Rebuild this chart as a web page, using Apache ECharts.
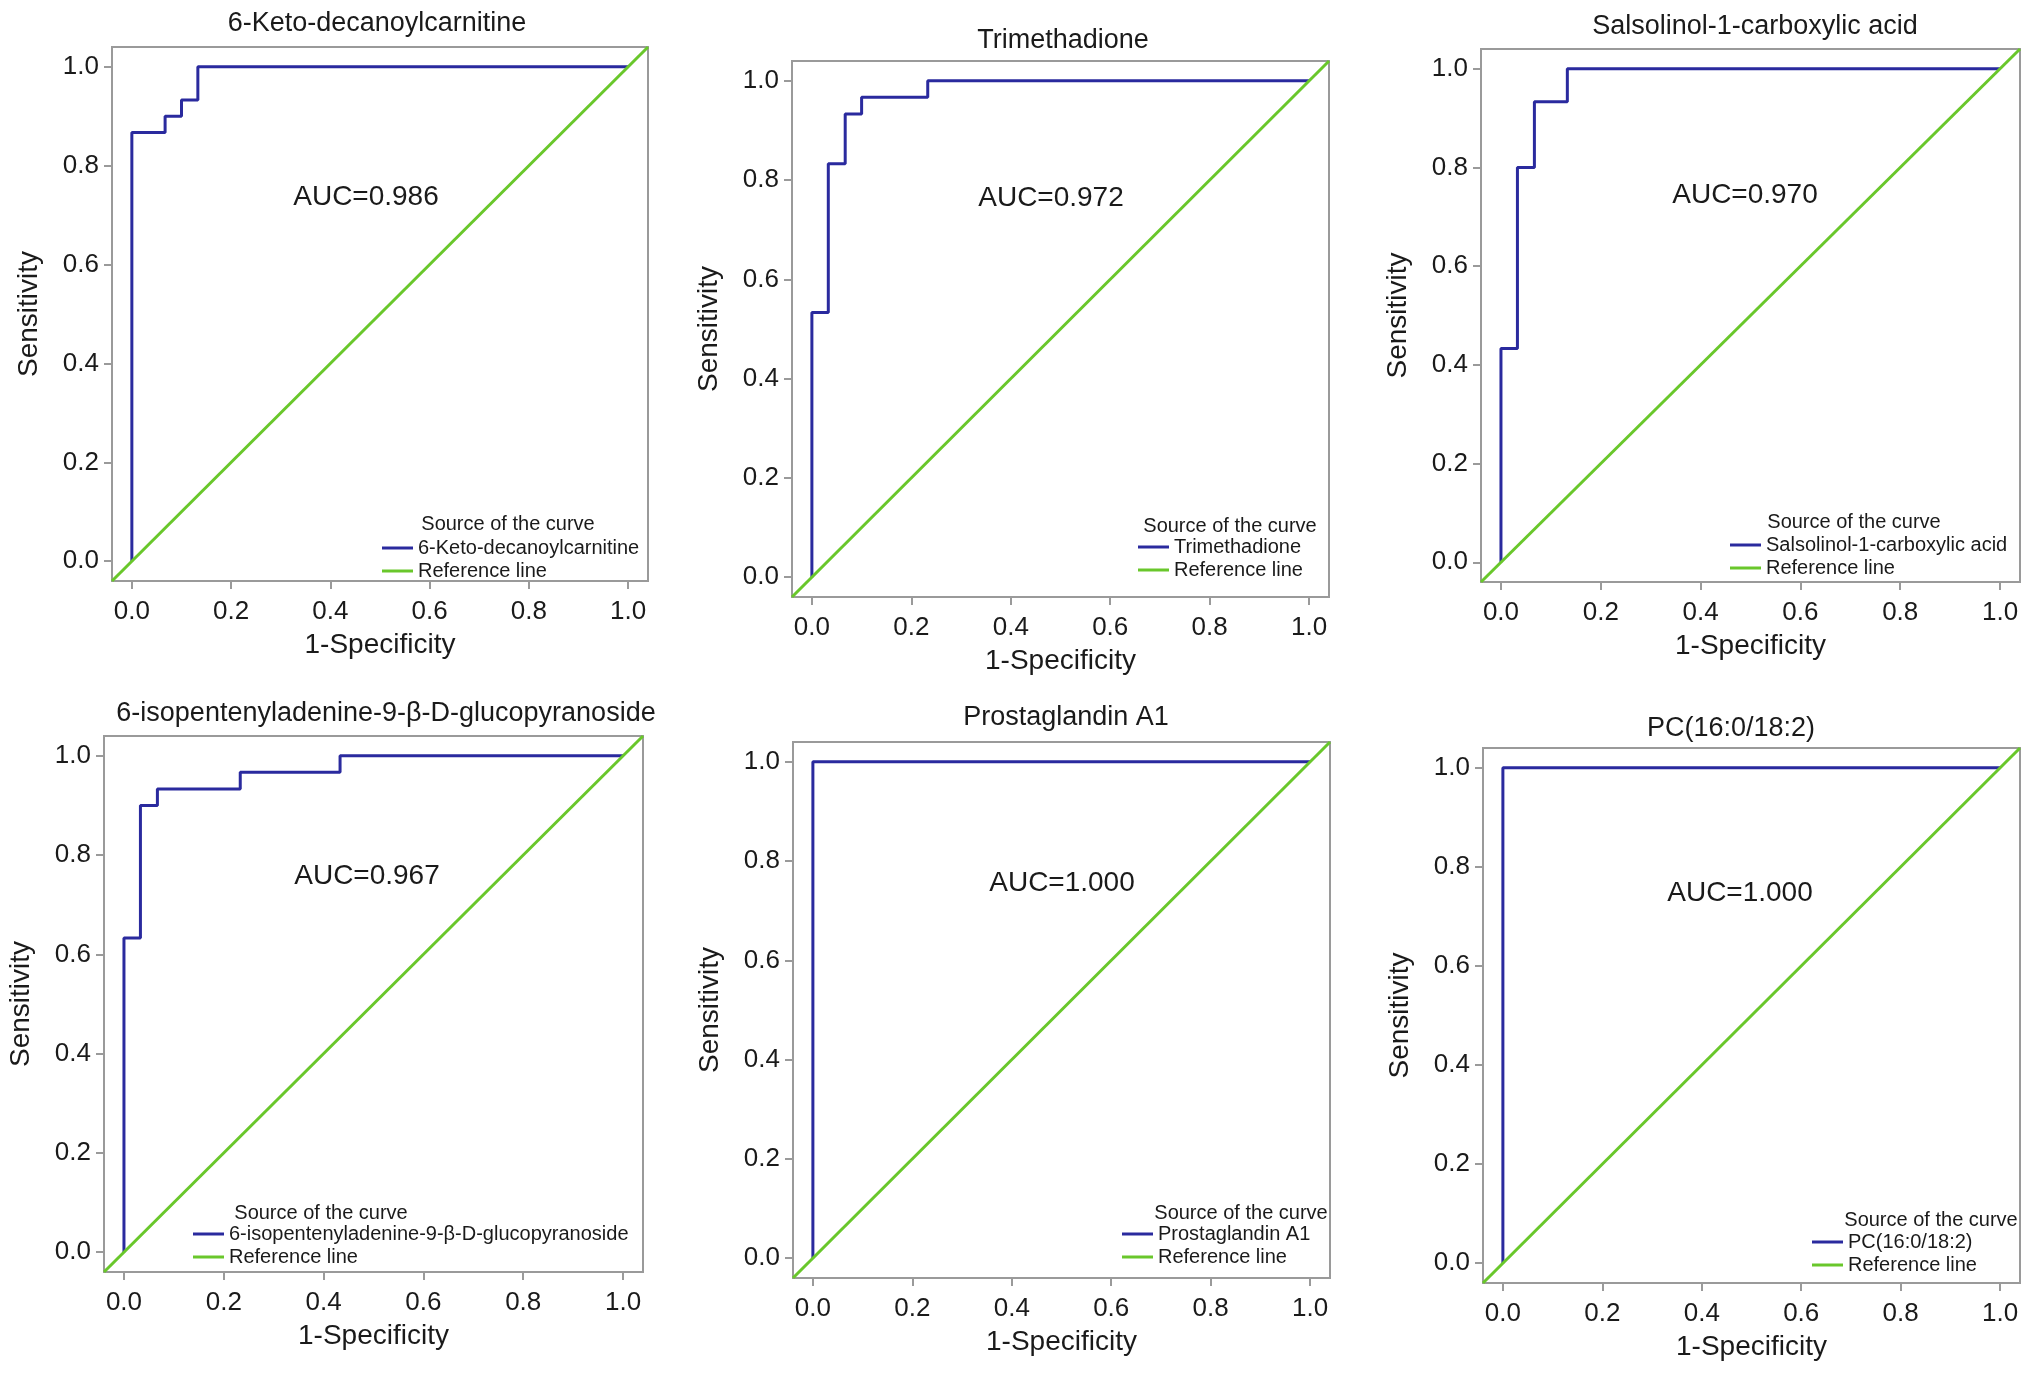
<!DOCTYPE html>
<html lang="en" style="height: 100%">
<head>
    <meta charset="utf-8">
</head>
<body style="height: 100%; margin: 0; overflow: hidden; background: #fff">
<div id="container" style="height: 100%; width: 100%"></div>

<script type="text/javascript" src="https://cdn.jsdelivr.net/npm/echarts@6/dist/echarts.min.js"></script>

<script type="text/javascript">
    // ROC curves, six metabolites (SPSS style)
    var names = [
      '6-Keto-decanoylcarnitine',
      'Trimethadione',
      'Salsolinol-1-carboxylic acid',
      '6-isopentenyladenine-9-\u03b2-D-glucopyranoside',
      'Prostaglandin A1',
      'PC(16:0/18:2)'
    ];
    var aucText = ['AUC=0.986', 'AUC=0.972', 'AUC=0.970', 'AUC=0.967', 'AUC=1.000', 'AUC=1.000'];

    var fpr1 = [0, 0, 0.067, 0.067, 0.1, 0.1, 0.133, 0.133, 1];
    var tpr1 = [0, 0.867, 0.867, 0.9, 0.9, 0.933, 0.933, 1, 1];
    var fpr2 = [0, 0, 0.033, 0.033, 0.067, 0.067, 0.1, 0.1, 0.233, 0.233, 1];
    var tpr2 = [0, 0.533, 0.533, 0.833, 0.833, 0.933, 0.933, 0.967, 0.967, 1, 1];
    var fpr3 = [0, 0, 0.033, 0.033, 0.067, 0.067, 0.133, 0.133, 1];
    var tpr3 = [0, 0.433, 0.433, 0.8, 0.8, 0.933, 0.933, 1, 1];
    var fpr4 = [0, 0, 0.033, 0.033, 0.067, 0.067, 0.233, 0.233, 0.433, 0.433, 1];
    var tpr4 = [0, 0.633, 0.633, 0.9, 0.9, 0.933, 0.933, 0.967, 0.967, 1, 1];
    var fpr5 = [0, 0, 1];
    var tpr5 = [0, 1, 1];
    var fpr6 = [0, 0, 1];
    var tpr6 = [0, 1, 1];

    var fprs = [fpr1, fpr2, fpr3, fpr4, fpr5, fpr6];
    var tprs = [tpr1, tpr2, tpr3, tpr4, tpr5, tpr6];

    var refLine = [-0.04, 1.04];            // diagonal, corner to corner
    var tickValues = [0, 0.2, 0.4, 0.6, 0.8, 1.0];

    // pixel layout of each panel
    var layout = [
      { grid: [112, 47, 536, 534],  title: [377, 24],   auc: [366, 197],  head: [508, 524],   leg: [382, 548] },
      { grid: [792, 61, 537, 536],  title: [1063, 41],  auc: [1051, 198], head: [1230, 526],  leg: [1138, 547] },
      { grid: [1481, 49, 539, 533], title: [1755, 27],  auc: [1745, 195], head: [1854, 522],  leg: [1730, 545] },
      { grid: [104, 736, 539, 536], title: [386, 714],  auc: [367, 876],  head: [321, 1213],  leg: [193, 1234] },
      { grid: [793, 742, 537, 536], title: [1066, 718], auc: [1062, 883], head: [1241, 1213], leg: [1122, 1234] },
      { grid: [1483, 748, 537, 535], title: [1731, 729], auc: [1740, 893], head: [1931, 1220], leg: [1812, 1242] }
    ];

    var blue = '#2a2a9e';
    var green = '#69c72b';
    var gray = '#9a9a9a';
    var ink = '#1a1a1a';
    var font = '"Liberation Sans", Arial, Helvetica, sans-serif';

    var dom = document.getElementById('container');
    var myChart = echarts.init(dom, null, { renderer: 'canvas' });

    var grids = [], xAxes = [], yAxes = [], series = [], legends = [], texts = [];

    layout.forEach(function (p, i) {
      grids.push({
        left: p.grid[0], top: p.grid[1], width: p.grid[2], height: p.grid[3],
        show: true, borderColor: gray, borderWidth: 2, backgroundColor: '#fff'
      });
      var axisCommon = {
        gridIndex: i, type: 'value', min: refLine[0], max: refLine[1],
        nameLocation: 'middle',
        nameMoveOverlap: false,
        nameTextStyle: { fontSize: 28, color: ink, fontFamily: font },
        axisLine: { show: false, onZero: false },
        splitLine: { show: false },
        axisTick: { show: true, inside: false, length: 8, customValues: tickValues,
                    lineStyle: { color: gray, width: 2 } },
        axisLabel: { fontSize: 26, color: ink, fontFamily: font, margin: 15,
                     customValues: tickValues,
                     formatter: function (v) { return v.toFixed(1); } }
      };
      xAxes.push(Object.assign({}, axisCommon, {
        name: '1-Specificity', nameGap: 50,
        axisLabel: Object.assign({}, axisCommon.axisLabel, { margin: 18 })
      }));
      yAxes.push(Object.assign({}, axisCommon, {
        name: 'Sensitivity', nameGap: 69, nameRotate: 90,
        axisLabel: Object.assign({}, axisCommon.axisLabel, { margin: 13 })
      }));

      var curve = fprs[i].map(function (x, k) { return [x, tprs[i][k]]; });
      series.push({
        name: names[i], type: 'line', xAxisIndex: i, yAxisIndex: i,
        data: curve, symbol: 'none', color: blue,
        lineStyle: { color: blue, width: 3 }
      });
      series.push({
        name: 'Reference line', type: 'line', xAxisIndex: i, yAxisIndex: i,
        data: [[refLine[0], refLine[0]], [refLine[1], refLine[1]]],
        symbol: 'none', color: green,
        lineStyle: { color: green, width: 3 }
      });

      legends.push({
        orient: 'vertical', left: p.leg[0], top: p.leg[1] - 11.5, padding: 0,
        itemGap: 0, itemWidth: 31, itemHeight: 3, icon: 'rect',
        selectedMode: false,
        textStyle: { fontSize: 20, lineHeight: 23, color: ink, fontFamily: font },
        data: [names[i], 'Reference line']
      });

      texts.push({
        type: 'text', x: p.title[0], y: p.title[1],
        style: { text: names[i], fontSize: 27, fontFamily: font, fill: ink,
                 align: 'center', verticalAlign: 'middle' }
      });
      texts.push({
        type: 'text', x: p.auc[0], y: p.auc[1],
        style: { text: aucText[i], fontSize: 28, fontFamily: font, fill: ink,
                 align: 'center', verticalAlign: 'middle' }
      });
      texts.push({
        type: 'text', x: p.head[0], y: p.head[1],
        style: { text: 'Source of the curve', fontSize: 20, fontFamily: font, fill: ink,
                 align: 'center', verticalAlign: 'middle' }
      });
    });

    var option = {
      animation: false,
      backgroundColor: '#fff',
      grid: grids,
      xAxis: xAxes,
      yAxis: yAxes,
      legend: legends,
      series: series,
      graphic: texts
    };

    myChart.setOption(option);
    window.addEventListener('resize', myChart.resize);
</script>
</body>
</html>
